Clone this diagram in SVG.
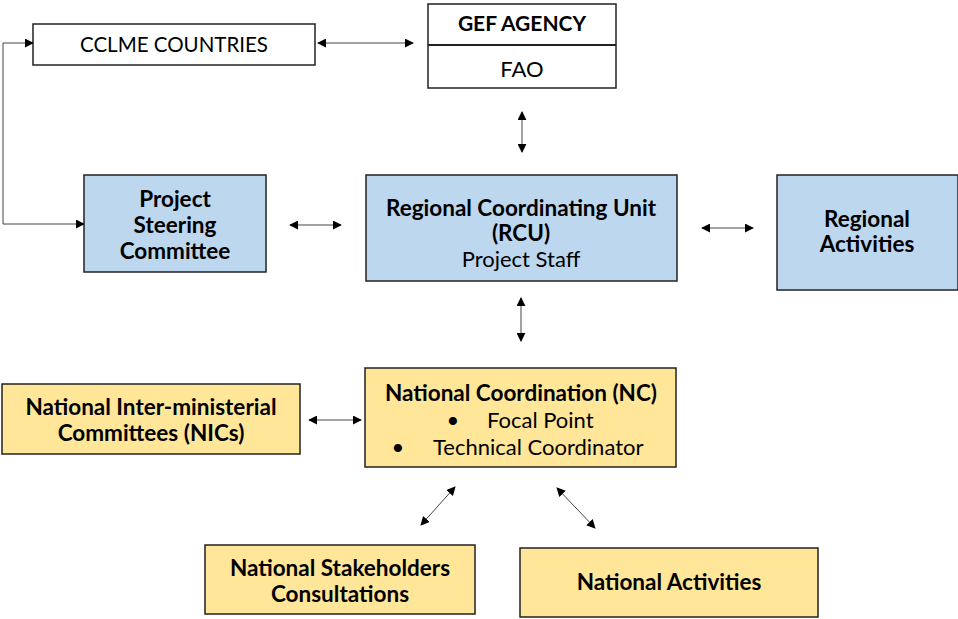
<svg xmlns="http://www.w3.org/2000/svg" width="958" height="619" viewBox="0 0 958 619">
<defs>
<marker id="ah" viewBox="0 0 10 10" refX="9" refY="5" markerWidth="9" markerHeight="9" markerUnits="userSpaceOnUse" orient="auto-start-reverse">
<path d="M0,0 L10,5 L0,10 z" fill="#000"/>
</marker>
<style>
.box{stroke:#222;stroke-width:1.5}
.w{fill:#fff}
.b{fill:#BDD7EE}
.y{fill:#FFE699}
text{font-family:Lato,"Open Sans","Liberation Sans",sans-serif;fill:#000;text-anchor:middle}
.bd{font-weight:bold;font-size:22.5px}
.rg{font-size:22px}
.con{stroke:#444;stroke-width:1;fill:none;marker-start:url(#ah);marker-end:url(#ah)}
.one{stroke:#444;stroke-width:1;fill:none;marker-end:url(#ah)}
</style>
</defs>
<rect width="958" height="619" fill="#fff"/>
<g id="cclme">
<rect class="box w" x="33" y="24" width="282" height="41"/>
<text class="rg" x="174" y="52" style="font-size:20.5px">CCLME COUNTRIES</text>
</g>
<g id="gef">
<rect class="box w" x="428" y="4" width="188" height="84"/>
<line x1="428" y1="45" x2="616" y2="45" stroke="#222" stroke-width="2"/>
<text class="bd" x="522" y="31" style="font-size:21px">GEF AGENCY</text>
<text class="rg" x="522" y="77">FAO</text>
</g>
<g id="psc">
<rect class="box b" x="84" y="175" width="182" height="97"/>
<text class="bd" x="175" y="207">Project</text>
<text class="bd" x="175" y="233">Steering</text>
<text class="bd" x="175" y="259">Committee</text>
</g>
<g id="rcu">
<rect class="box b" x="366" y="175" width="311" height="106"/>
<text class="bd" x="521" y="216">Regional Coordinating Unit</text>
<text class="bd" x="521" y="241">(RCU)</text>
<text class="rg" x="521" y="267">Project Staff</text>
</g>
<g id="ra">
<rect class="box b" x="777" y="175" width="181" height="115"/>
<text class="bd" x="867" y="227">Regional</text>
<text class="bd" x="867" y="252">Activities</text>
</g>
<g id="nic">
<rect class="box y" x="2" y="384" width="298" height="70"/>
<text class="bd" x="151" y="415">National Inter-ministerial</text>
<text class="bd" x="151" y="441">Committees (NICs)</text>
</g>
<g id="nc">
<rect class="box y" x="365" y="368" width="311" height="99"/>
<text class="bd" x="521" y="401">National Coordination (NC)</text>
<text class="rg" x="453" y="428">•</text>
<text class="rg" x="487" y="428" style="text-anchor:start">Focal Point</text>
<text class="rg" x="398" y="455">•</text>
<text class="rg" x="433" y="455" style="text-anchor:start">Technical Coordinator</text>
</g>
<g id="nsc">
<rect class="box y" x="205" y="545" width="270" height="69"/>
<text class="bd" x="340" y="576">National Stakeholders</text>
<text class="bd" x="340" y="602">Consultations</text>
</g>
<g id="na">
<rect class="box y" x="520" y="548" width="298" height="69"/>
<text class="bd" x="669" y="590">National Activities</text>
</g>
<g id="connectors">
<line class="con" x1="318" y1="43" x2="413" y2="43"/>
<line class="con" x1="522" y1="112" x2="522" y2="152"/>
<path class="one" d="M3,224 V43 H33"/>
<path class="one" d="M3,224 H84"/>
<line class="con" x1="290" y1="225" x2="341" y2="225"/>
<line class="con" x1="702" y1="228" x2="753" y2="228"/>
<line class="con" x1="521" y1="298" x2="521" y2="341"/>
<line class="con" x1="309" y1="420" x2="361" y2="420"/>
<line class="con" x1="455" y1="487" x2="421" y2="525"/>
<line class="con" x1="557" y1="488" x2="595" y2="528"/>
</g>
</svg>
